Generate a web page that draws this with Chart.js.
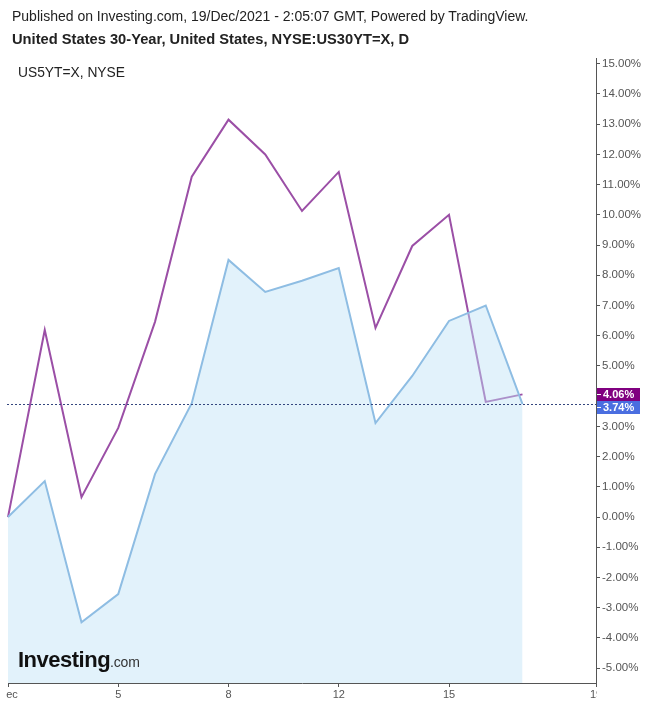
<!DOCTYPE html>
<html>
<head>
<meta charset="utf-8">
<script src="https://cdn.jsdelivr.net/npm/chart.js@4.4.0/dist/chart.umd.min.js"></script>
<style>
body{margin:0;background:#fff;font-family:Arial,"Liberation Sans",sans-serif;}
#wrap{position:relative;width:649px;height:707px;overflow:hidden;}
canvas{position:absolute;left:0;top:0;}
.t{position:absolute;white-space:nowrap;color:#222;line-height:16px;}
#logo{left:18px;top:648px;font-size:22px;line-height:24px;font-weight:bold;color:#111;letter-spacing:-0.5px;}
#logo span{font-size:14px;font-weight:normal;color:#333;letter-spacing:-0.2px;}
</style>
</head>
<body>
<div id="wrap">
<canvas id="myChart" width="649" height="707"></canvas>
<div class="t" style="left:12px;top:8px;font-size:14px">Published on Investing.com, 19/Dec/2021 - 2:05:07 GMT, Powered by TradingView.</div>
<div class="t" style="left:12px;top:31px;font-size:14.7px;font-weight:bold">United States 30-Year, United States, NYSE:US30YT=X, D</div>
<div class="t" style="left:18px;top:65px;font-size:13.8px">US5YT=X, NYSE</div>
<div class="t" id="logo">Investing<span>.com</span></div>
</div>
<script>
// datos
const labels = ['Dec', '', '', '5', '', '', '8', '', '', '12', '', '', '15', '', '', '', '19'];
const us30 = [0.00, 6.19, 0.66, 2.95, 6.46, 11.26, 13.15, 12.00, 10.13, 11.42, 6.26, 8.97, 10.00, 3.81, 4.06, null, null];
const us5 = [0.00, 1.19, -3.48, -2.55, 1.42, 3.77, 8.51, 7.45, 7.82, 8.24, 3.11, 4.67, 6.49, 7.00, 3.74, null, null];
const yMin = -5.49;
const yMax = 15.19;

Chart.defaults.font.family = 'Arial, "Liberation Sans", sans-serif';

function ultimo(arr){
    for(let i = arr.length - 1; i >= 0; i--){
        if(arr[i] !== null) return arr[i];
    }
    return null;
}

const marcas = {
    id: 'marcas',
    afterDatasetsDraw(chart){
        const ctx = chart.ctx;
        const area = chart.chartArea;
        const y = chart.scales.y.getPixelForValue(ultimo(us5));
        ctx.save();
        ctx.strokeStyle = '#34467e';
        ctx.lineWidth = 1;
        ctx.setLineDash([2, 2]);
        ctx.beginPath();
        ctx.moveTo(area.left - 1, Math.round(y) + 0.5);
        ctx.lineTo(area.right, Math.round(y) + 0.5);
        ctx.stroke();
        ctx.restore();
    },
    afterDraw(chart){
        const ctx = chart.ctx;
        const area = chart.chartArea;
        const sy = chart.scales.y;
        // recortar etiquetas del eje x fuera del area
        ctx.save();
        ctx.fillStyle = '#fff';
        ctx.fillRect(0, area.bottom + 5, 6, 30);
        ctx.fillRect(area.right + 1, area.bottom + 5, 60, 30);

        const cajas = [
            {v: ultimo(us30), color: '#800080'},
            {v: ultimo(us5), color: '#4a6ee0'}
        ];
        cajas.forEach(c => c.y = sy.getPixelForValue(c.v));
        cajas.sort((a, b) => a.y - b.y);
        const h = 13;
        for(let i = 1; i < cajas.length; i++){
            if(cajas[i].y - cajas[i-1].y < h) cajas[i].y = cajas[i-1].y + h;
        }
        ctx.font = 'bold 11px Arial, "Liberation Sans", sans-serif';
        ctx.textBaseline = 'middle';
        cajas.forEach(c => {
            ctx.fillStyle = c.color;
            ctx.fillRect(area.right + 1, Math.round(c.y - h / 2), 43, h);
            ctx.strokeStyle = '#fff';
            ctx.lineWidth = 1;
            ctx.beginPath();
            ctx.moveTo(area.right + 1, Math.round(c.y) + 0.5);
            ctx.lineTo(area.right + 5, Math.round(c.y) + 0.5);
            ctx.stroke();
            ctx.fillStyle = '#fff';
            ctx.fillText(c.v.toFixed(2) + '%', area.right + 7, Math.round(c.y) + 0.5);
        });
        ctx.restore();
    }
};

const ctx = document.getElementById('myChart').getContext('2d');
const myChart = new Chart(ctx, {
    type: 'line',
    data: {
        labels: labels,
        datasets: [{
            label: 'US5YT=X, NYSE',
            data: us5,
            borderColor: '#8ebde3',
            borderWidth: 2,
            backgroundColor: 'rgba(190, 226, 246, 0.45)',
            fill: 'start',
            pointRadius: 0,
            tension: 0
        }, {
            label: 'United States 30-Year',
            data: us30,
            borderColor: '#9b4fa6',
            borderWidth: 2,
            fill: false,
            pointRadius: 0,
            tension: 0
        }]
    },
    options: {
        responsive: false,
        animation: false,
        devicePixelRatio: 1,
        layout: {
            padding: {top: 58, left: 8, right: 0, bottom: 0}
        },
        plugins: {
            legend: {display: false},
            tooltip: {enabled: false}
        },
        scales: {
            x: {
                grid: {
                    drawOnChartArea: false,
                    tickLength: 4,
                    tickColor: (c) => (c.tick && c.tick.label) ? '#555' : 'rgba(0,0,0,0)'
                },
                border: {color: '#555', width: 1},
                ticks: {
                    autoSkip: false,
                    maxRotation: 0,
                    color: '#555',
                    padding: 1,
                    font: {size: 11}
                },
                afterFit: (s) => {
                    s.paddingLeft = 0;
                    s.paddingRight = 0;
                    s.height = 24;
                }
            },
            y: {
                position: 'right',
                min: yMin,
                max: yMax,
                grid: {
                    drawOnChartArea: false,
                    tickLength: 4,
                    tickColor: '#555'
                },
                border: {color: '#555', width: 1},
                ticks: {
                    color: '#555',
                    padding: 2,
                    font: {size: 11.5},
                    callback: (v) => v.toFixed(2) + '%'
                },
                afterBuildTicks: (s) => {
                    const t = [];
                    for(let v = Math.ceil(yMin); v <= Math.floor(yMax); v++) t.push({value: v});
                    s.ticks = t;
                },
                afterFit: (s) => {
                    s.width = 53;
                    s.paddingTop = 0;
                    s.paddingBottom = 0;
                }
            }
        }
    },
    plugins: [marcas]
});
</script>
</body>
</html>
